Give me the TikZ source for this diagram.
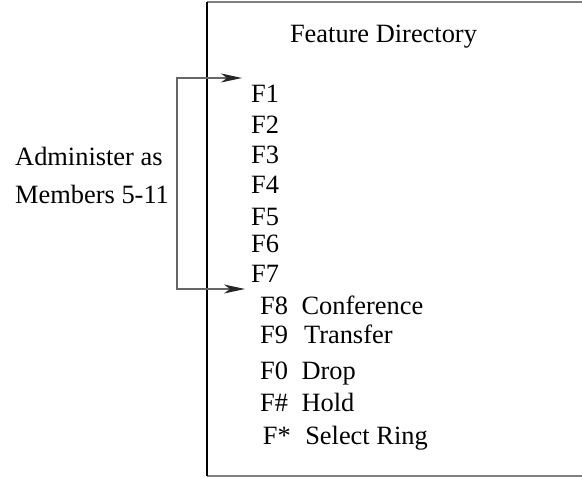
\documentclass[tikz,border=0pt]{standalone}
\usepackage{fontspec}
\setmainfont{Liberation Serif}
\usetikzlibrary{arrows.meta}
\tikzset{tip/.tip={Stealth[length=21pt,width=9pt,inset=6pt,color=black!85]}}
\begin{document}
\begin{tikzpicture}[x=1pt,y=-1pt,
  txt/.style={font=\fontsize{26.4}{30}\selectfont, inner sep=0pt, anchor=base west},
  frameline/.style={draw=black!50, line width=2pt},
  bracket/.style={draw=black!60, line width=1.4pt, tip-tip}]
\useasboundingbox (0,0) rectangle (582,478);
\clip (0,0) rectangle (582,478);

% directory frame (runs off to the right)
\draw[frameline] (207,2) -- (600,2);
\draw[frameline] (207,476.5) -- (600,476.5);
\draw[black, line width=1.2pt] (207,2) -- (207,476.5);

% heading
\node[txt, anchor=base] (head) at (383.5,43) {Feature Directory};

% directory entries
\node[txt] (f1) at (251,102.7) {F1};
\node[txt] (f2) at (251,133.3) {F2};
\node[txt] (f3) at (251,164) {F3};
\node[txt] (f4) at (251,194) {F4};
\node[txt] (f5) at (251,225.7) {F5};
\node[txt] (f6) at (251,252.7) {F6};
\node[txt] (f7) at (251,282.7) {F7};
\node[txt] (f8) at (260,315) {F8\hspace{13.5pt}Conference};
\node[txt] (f9) at (260,344) {F9\hspace{16pt}Transfer};
\node[txt] (f0) at (260,379.3) {F0\hspace{13.5pt}Drop};
\node[txt] (fh) at (260,411.7) {F\#\hspace{13.5pt}Hold};
\node[txt] (fs) at (262.7,445) {F*\hspace{14.5pt}Select Ring};

% side note
\node[txt] (adm) at (15,166) {Administer as};
\node[txt] (mem) at (15,203.3) {Members 5-11};

% bracket pointing at the first and the seventh entry
\coordinate (spinetop) at (177,78);
\coordinate (spinebot) at (177,289);
\coordinate (topend) at (242,78);
\coordinate (botend) at (245,289);
\draw[bracket] (topend) -- (spinetop) -- (spinebot) -- (botend);
\end{tikzpicture}
\end{document}
